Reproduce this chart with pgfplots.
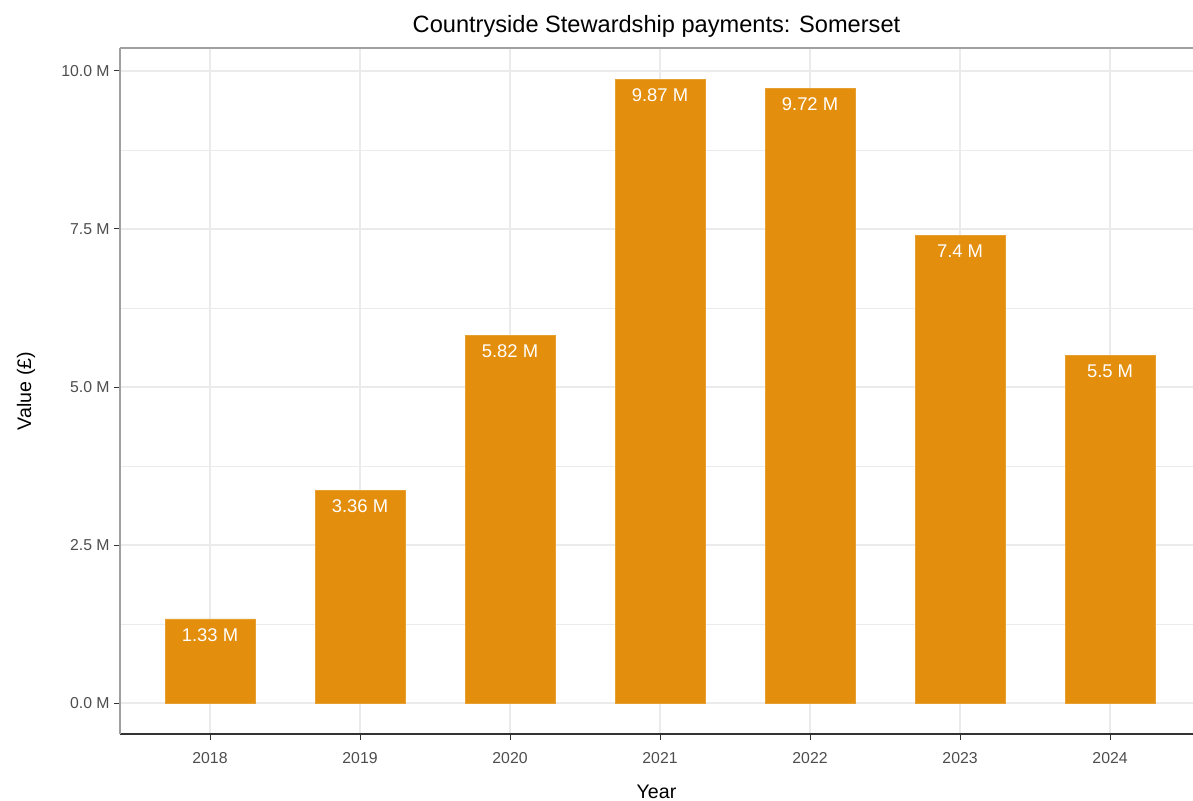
\documentclass[border=0pt]{standalone}
\usepackage{pgfplots}
\pgfplotsset{compat=1.18}
\usepackage{fontspec}
\setmainfont{Liberation Sans}

\definecolor{barfill}{RGB}{227,142,12}
\definecolor{gridgray}{RGB}{235,235,235}
\definecolor{ticktext}{RGB}{77,77,77}
\definecolor{darkline}{RGB}{51,51,51}
\definecolor{borderline}{RGB}{160,160,160}

\begin{document}
\begin{tikzpicture}
\begin{axis}[
scale only axis,
width=536.5pt, height=343pt,
xmin=-0.6, xmax=6.553,
ymin=-0.49, ymax=10.364,
axis x line*=bottom,
axis y line*=left,
x axis line style={darkline, line width=0.6pt},
y axis line style={borderline, line width=0.6pt},
tick align=outside,
major tick length=3pt,
minor tick length=0pt,
tick style={darkline, line width=0.5pt},
xtick={0,1,2,3,4,5,6},
xticklabels={2018,2019,2020,2021,2022,2023,2024},
ytick={0,2.5,5,7.5,10},
yticklabels={0.0 M,2.5 M,5.0 M,7.5 M,10.0 M},
minor ytick={1.25,3.75,6.25,8.75},
xmajorgrids, ymajorgrids, yminorgrids,
major grid style={gridgray, line width=0.6pt},
minor grid style={gridgray, line width=0.35pt},
ticklabel style={font=\fontsize{7.9}{9}\selectfont, text=ticktext},
xticklabel style={anchor=base, yshift=-12pt},
yticklabel style={anchor=east, inner sep=0pt, xshift=-2pt},
every axis title shift=0pt,
title={Countryside Stewardship payments: Somerset},
title style={font=\fontsize{11.8}{14}\selectfont, at={(axis description cs:0.5,1.0219)}, anchor=base},
xlabel={Year},
xlabel style={font=\fontsize{9.8}{12}\selectfont, at={(axis description cs:0.5,-0.0933)}, anchor=base},
ylabel={Value (£)},
ylabel style={font=\fontsize{9.8}{12}\selectfont, at={(axis description cs:-0.0875,0.5)}, anchor=center, rotate=0},
]
\addplot[ybar, bar width=0.6, bar shift=0pt, fill=barfill, draw=barfill!85!white, line width=0.3pt,
  point meta=explicit symbolic,
  nodes near coords,
  nodes near coords style={anchor=north, inner sep=0pt, yshift=-4.5pt, text=white, font=\fontsize{9.2}{11}\selectfont}]
table[meta=label] {
x y label
0 1.33 {1.33 M}
1 3.36 {3.36 M}
2 5.82 {5.82 M}
3 9.87 {9.87 M}
4 9.72 {9.72 M}
5 7.40 {7.4 M}
6 5.50 {5.5 M}
};
\draw[borderline, line width=0.6pt] (rel axis cs:0,1) -- (rel axis cs:1,1);
\end{axis}
\pgfresetboundingbox
\path ([shift={(-60pt,-33.5pt)}]current axis.south west) rectangle ([shift={(0pt,24pt)}]current axis.north east);
\end{tikzpicture}
\end{document}
